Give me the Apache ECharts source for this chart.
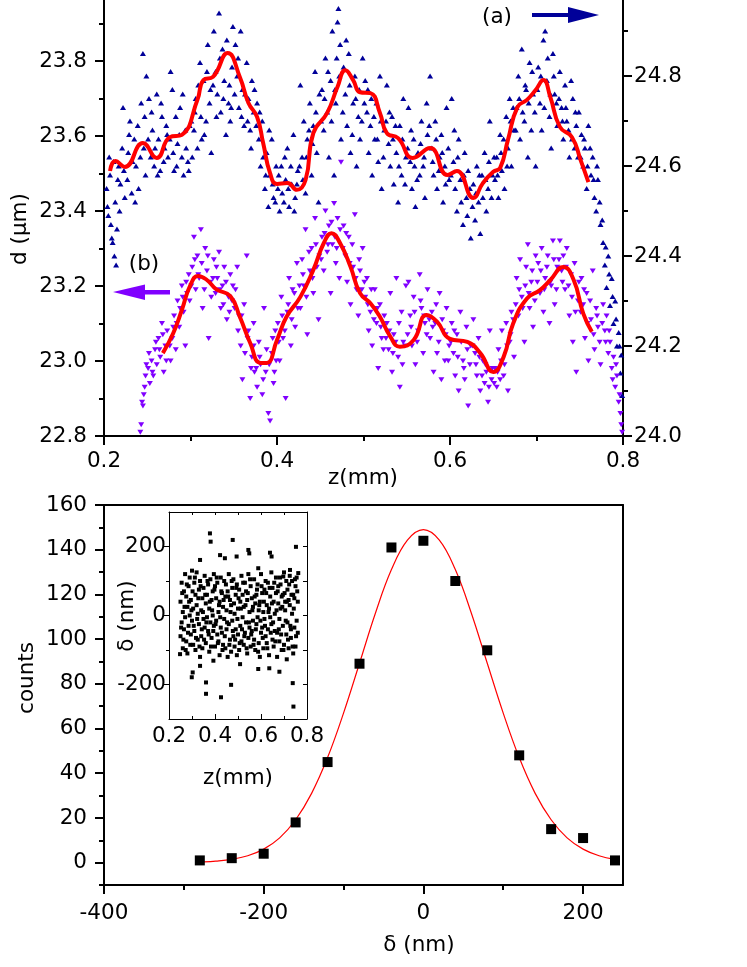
<!DOCTYPE html>
<html>
<head>
<meta charset="utf-8">
<title>d(z) profiles and deviation histogram</title>
<script src="https://cdn.jsdelivr.net/npm/echarts@6.0.0/dist/echarts.min.js"></script>
<style>
  html, body { margin: 0; padding: 0; background: #fff; }
  #chart { width: 747px; height: 967px; }
</style>
</head>
<body>
<div id="chart"></div>
<script>
// ---------- data ----------
// (a) diameter profile, right axis (µm)
const navyPts = [
  [0.203,24.55],[0.205,24.49],[0.207,24.58],[0.209,24.44],[0.210,24.43],[0.211,24.61],[0.212,24.40],[0.213,24.52],[0.214,24.38],[0.215,24.46],[0.217,24.60],[0.219,24.56],[0.222,24.73],[0.224,24.53],
  [0.228,24.63],[0.230,24.70],[0.232,24.54],[0.235,24.66],[0.237,24.60],[0.240,24.55],[0.243,24.74],[0.245,24.85],[0.246,24.64],[0.248,24.58],[0.249,24.80],
  [0.252,24.75],[0.254,24.62],[0.256,24.68],[0.258,24.60],[0.261,24.76],[0.263,24.66],[0.265,24.59],[0.267,24.71],[0.270,24.64],[0.272,24.69],[0.274,24.62],
  [0.277,24.81],[0.279,24.77],[0.281,24.59],[0.283,24.71],[0.285,24.65],[0.288,24.73],[0.290,24.62],[0.292,24.58],[0.294,24.68],[0.297,24.61],[0.299,24.69],
  [0.302,24.62],[0.304,24.68],[0.306,24.75],[0.308,24.64],[0.311,24.83],[0.313,24.66],[0.315,24.79],[0.318,24.70],[0.320,24.87],[0.322,24.74],[0.324,24.63],
  [0.327,24.90],[0.329,24.81],[0.331,24.76],[0.333,24.94],[0.335,24.72],[0.337,24.86],[0.339,24.79],[0.341,24.67],[0.344,24.74],[0.346,24.70],[0.348,24.82],[0.349,24.91],
  [0.352,24.87],[0.354,24.80],[0.356,24.73],[0.358,24.90],[0.360,24.77],[0.362,24.69],[0.365,24.83],[0.367,24.75],[0.369,24.68],[0.371,24.79],[0.373,24.72],
  [0.377,24.74],[0.379,24.66],[0.381,24.60],[0.383,24.70],[0.386,24.55],[0.388,24.63],[0.390,24.51],[0.392,24.58],[0.394,24.66],[0.396,24.53],[0.399,24.60],
  [0.401,24.55],[0.403,24.50],[0.405,24.60],[0.408,24.52],[0.410,24.57],[0.412,24.64],[0.414,24.51],[0.417,24.56],[0.419,24.67],[0.421,24.53],[0.424,24.59],
  [0.427,24.78],[0.429,24.62],[0.431,24.70],[0.433,24.54],[0.435,24.66],[0.438,24.74],[0.440,24.58],[0.442,24.69],[0.444,24.81],[0.446,24.63],[0.448,24.52],
  [0.452,24.77],[0.454,24.68],[0.456,24.84],[0.458,24.72],[0.460,24.62],[0.462,24.79],[0.464,24.90],[0.466,24.58],[0.468,24.74],[0.470,24.92],[0.471,24.95],[0.473,24.87],[0.474,24.66],
  [0.477,24.82],[0.479,24.76],[0.481,24.69],[0.483,24.85],[0.485,24.63],[0.488,24.74],[0.490,24.80],[0.492,24.60],[0.494,24.71],[0.496,24.66],[0.499,24.84],
  [0.502,24.79],[0.504,24.72],[0.506,24.63],[0.508,24.69],[0.510,24.58],[0.513,24.66],[0.515,24.74],[0.517,24.61],[0.519,24.80],[0.521,24.55],[0.524,24.68],
  [0.527,24.78],[0.529,24.65],[0.531,24.60],[0.533,24.71],[0.535,24.56],[0.538,24.63],[0.540,24.52],[0.542,24.69],[0.544,24.58],[0.546,24.75],[0.549,24.62],
  [0.552,24.73],[0.554,24.61],[0.556,24.55],[0.558,24.66],[0.560,24.51],[0.563,24.63],[0.565,24.58],[0.567,24.70],[0.569,24.60],[0.571,24.53],[0.574,24.67],
  [0.577,24.80],[0.579,24.64],[0.581,24.58],[0.583,24.70],[0.585,24.55],[0.588,24.62],[0.590,24.67],[0.592,24.52],[0.594,24.60],[0.596,24.73],[0.599,24.57],
  [0.602,24.75],[0.604,24.61],[0.606,24.55],[0.608,24.50],[0.610,24.66],[0.612,24.57],[0.615,24.47],[0.617,24.63],[0.619,24.53],[0.621,24.59],[0.624,24.44],
  [0.627,24.56],[0.629,24.48],[0.631,24.60],[0.633,24.52],[0.635,24.45],[0.637,24.58],[0.640,24.63],[0.642,24.50],[0.644,24.55],[0.646,24.70],[0.648,24.53],
  [0.652,24.57],[0.654,24.62],[0.656,24.53],[0.658,24.67],[0.660,24.59],[0.663,24.55],[0.665,24.71],[0.667,24.64],[0.669,24.75],[0.671,24.60],[0.674,24.68],
  [0.677,24.73],[0.679,24.80],[0.681,24.66],[0.683,24.86],[0.686,24.70],[0.688,24.77],[0.690,24.62],[0.692,24.83],[0.694,24.68],[0.696,24.76],[0.699,24.60],
  [0.702,24.82],[0.704,24.74],[0.706,24.68],[0.708,24.88],[0.710,24.90],[0.712,24.79],[0.715,24.71],[0.717,24.64],[0.719,24.85],[0.721,24.76],[0.724,24.69],
  [0.727,24.81],[0.729,24.73],[0.731,24.66],[0.733,24.78],[0.735,24.70],[0.738,24.62],[0.740,24.79],[0.742,24.75],[0.744,24.64],[0.746,24.69],[0.749,24.72],
  [0.752,24.67],[0.754,24.60],[0.756,24.64],[0.758,24.55],[0.760,24.69],[0.763,24.58],[0.765,24.62],[0.767,24.53],[0.769,24.50],[0.771,24.57],[0.774,24.47],
  [0.777,24.43],[0.779,24.38],[0.781,24.33],[0.783,24.40],[0.785,24.29],[0.787,24.35],[0.789,24.25],[0.791,24.30],[0.793,24.20],[0.795,24.23],[0.797,24.14],[0.798,24.18],[0.799,24.09],
  [0.204,24.51],[0.206,24.62],[0.208,24.47],[0.216,24.57],[0.218,24.50],[0.221,24.64],[0.223,24.59],
  [0.227,24.57],[0.229,24.67],[0.233,24.61],[0.236,24.52],[0.239,24.69],[0.242,24.62],[0.247,24.71],
  [0.251,24.66],[0.255,24.72],[0.259,24.64],[0.262,24.58],[0.266,24.74],[0.269,24.61],[0.273,24.67],
  [0.276,24.66],[0.280,24.63],[0.284,24.60],[0.287,24.67],[0.291,24.76],[0.295,24.64],[0.298,24.59],
  [0.301,24.70],[0.305,24.72],[0.309,24.78],[0.312,24.71],[0.316,24.67],[0.319,24.81],[0.323,24.77],
  [0.326,24.78],[0.330,24.71],[0.334,24.84],[0.338,24.75],[0.342,24.88],[0.345,24.78],[0.347,24.73],
  [0.351,24.76],[0.355,24.84],[0.359,24.71],[0.363,24.76],[0.366,24.70],[0.370,24.64],[0.374,24.77],
  [0.376,24.69],[0.380,24.72],[0.384,24.62],[0.387,24.58],[0.391,24.68],[0.395,24.56],[0.398,24.52],
  [0.402,24.58],[0.406,24.54],[0.409,24.62],[0.413,24.55],[0.416,24.60],[0.420,24.50],[0.423,24.56],
  [0.426,24.60],[0.430,24.57],[0.434,24.62],[0.437,24.68],[0.441,24.65],[0.445,24.72],[0.449,24.76],
  [0.451,24.70],[0.455,24.75],[0.459,24.81],[0.463,24.70],[0.467,24.77],[0.469,24.84],[0.472,24.80],
  [0.476,24.72],[0.480,24.88],[0.484,24.78],[0.487,24.67],[0.491,24.75],[0.495,24.77],[0.498,24.70],
  [0.501,24.74],[0.505,24.77],[0.509,24.75],[0.512,24.71],[0.516,24.66],[0.520,24.70],[0.523,24.62],
  [0.526,24.70],[0.530,24.72],[0.534,24.66],[0.537,24.69],[0.541,24.60],[0.545,24.66],[0.548,24.56],
  [0.551,24.64],[0.555,24.68],[0.559,24.60],[0.562,24.57],[0.566,24.65],[0.570,24.62],[0.573,24.74],
  [0.576,24.69],[0.580,24.61],[0.584,24.66],[0.587,24.59],[0.591,24.63],[0.595,24.56],[0.598,24.64],
  [0.601,24.58],[0.605,24.68],[0.609,24.62],[0.613,24.52],[0.616,24.58],[0.620,24.49],[0.623,24.55],
  [0.626,24.51],[0.630,24.54],[0.634,24.58],[0.638,24.53],[0.641,24.57],[0.645,24.61],[0.649,24.58],
  [0.651,24.62],[0.655,24.58],[0.659,24.63],[0.662,24.66],[0.666,24.60],[0.670,24.70],[0.673,24.73],
  [0.676,24.68],[0.680,24.75],[0.684,24.72],[0.687,24.78],[0.691,24.74],[0.695,24.81],[0.698,24.72],
  [0.701,24.77],[0.705,24.80],[0.709,24.73],[0.713,24.84],[0.716,24.76],[0.720,24.80],[0.723,24.74],
  [0.726,24.75],[0.730,24.70],[0.734,24.73],[0.737,24.68],[0.741,24.66],[0.745,24.72],[0.748,24.62],
  [0.751,24.62],[0.755,24.66],[0.759,24.60],[0.762,24.64],[0.766,24.57],[0.770,24.60],[0.773,24.52],
  [0.776,24.48],[0.780,24.42],[0.784,24.36],[0.788,24.31],[0.792,24.26],[0.796,24.20]
];
// (b) diameter profile, left axis (µm)
const purplePts = [
  [0.242,22.81],[0.243,22.83],[0.244,22.89],[0.245,22.88],[0.247,22.93],[0.248,22.96],
  [0.251,22.98],[0.253,22.94],[0.255,23.00],[0.257,22.96],[0.259,23.03],[0.261,22.99],[0.263,23.06],[0.265,23.01],[0.267,23.10],[0.269,22.97],[0.271,23.04],[0.273,23.08],
  [0.277,23.00],[0.279,23.06],[0.281,23.12],[0.283,23.03],[0.285,23.16],[0.287,23.09],[0.290,23.20],[0.292,23.13],[0.294,23.04],[0.296,23.18],[0.298,23.23],
  [0.302,23.25],[0.304,23.33],[0.306,23.19],[0.308,23.28],[0.310,23.22],[0.312,23.35],[0.314,23.14],[0.317,23.30],[0.319,23.24],[0.321,23.06],[0.323,23.21],
  [0.327,23.27],[0.329,23.18],[0.331,23.22],[0.333,23.29],[0.335,23.14],[0.337,23.20],[0.339,23.25],[0.342,23.11],[0.344,23.17],[0.346,23.23],[0.348,23.16],
  [0.352,23.19],[0.354,23.25],[0.356,23.12],[0.358,23.04],[0.360,22.95],[0.362,23.15],[0.365,23.28],[0.367,23.08],[0.369,22.90],[0.371,23.01],[0.373,23.10],[0.374,22.97],
  [0.377,22.93],[0.379,23.05],[0.381,22.99],[0.383,22.91],[0.385,23.14],[0.387,22.97],[0.390,22.86],[0.392,22.84],[0.394,23.02],[0.396,22.94],[0.398,23.08],[0.399,23.00],
  [0.401,23.10],[0.403,23.00],[0.405,23.17],[0.407,23.06],[0.410,22.90],[0.412,23.13],[0.414,23.22],[0.416,23.04],[0.418,23.19],[0.421,23.09],[0.423,23.26],
  [0.427,23.14],[0.429,23.27],[0.431,23.20],[0.433,23.35],[0.435,23.07],[0.438,23.24],[0.440,23.30],[0.442,23.18],[0.444,23.38],[0.446,23.25],[0.448,23.11],
  [0.452,23.33],[0.454,23.24],[0.456,23.40],[0.458,23.29],[0.460,23.36],[0.462,23.18],[0.464,23.31],[0.466,23.42],[0.468,23.26],[0.470,23.38],[0.472,23.22],[0.474,23.53],
  [0.477,23.36],[0.479,23.28],[0.481,23.21],[0.483,23.33],[0.485,23.15],[0.488,23.25],[0.490,23.39],[0.492,23.19],[0.494,23.12],[0.496,23.24],[0.499,23.30],
  [0.502,23.17],[0.504,23.22],[0.506,23.08],[0.508,23.13],[0.510,23.04],[0.513,23.19],[0.515,23.10],[0.517,22.98],[0.519,23.15],[0.521,23.06],[0.524,23.12],
  [0.527,23.10],[0.529,23.03],[0.531,23.18],[0.533,22.97],[0.535,23.07],[0.538,23.22],[0.540,23.01],[0.542,22.93],[0.544,23.13],[0.546,23.05],[0.549,23.20],
  [0.552,23.21],[0.554,23.12],[0.556,23.04],[0.558,23.17],[0.560,22.99],[0.563,23.08],[0.565,23.23],[0.567,23.14],[0.569,23.02],[0.571,23.10],[0.574,23.19],
  [0.577,23.06],[0.579,23.13],[0.581,22.97],[0.583,23.10],[0.585,23.02],[0.588,23.18],[0.590,22.95],[0.592,23.08],[0.594,23.00],[0.596,23.14],[0.599,23.04],
  [0.602,23.10],[0.604,23.02],[0.606,22.96],[0.608,23.07],[0.610,22.92],[0.612,23.13],[0.615,23.00],[0.617,22.95],[0.619,23.09],[0.621,22.88],[0.624,23.04],
  [0.627,23.11],[0.629,23.02],[0.631,22.96],[0.633,23.06],[0.635,22.92],[0.638,23.00],[0.640,22.94],[0.642,22.97],[0.644,22.89],[0.646,23.08],[0.648,22.95],
  [0.652,22.98],[0.654,22.93],[0.656,23.03],[0.658,22.95],[0.660,23.08],[0.663,22.99],[0.665,23.10],[0.667,22.92],[0.669,23.05],[0.671,23.13],[0.674,23.01],
  [0.677,23.22],[0.679,23.12],[0.681,23.27],[0.683,23.17],[0.686,23.05],[0.688,23.25],[0.690,23.31],[0.692,23.14],[0.694,23.21],[0.696,23.09],[0.699,23.28],
  [0.702,23.26],[0.704,23.18],[0.706,23.30],[0.708,23.13],[0.710,23.22],[0.713,23.28],[0.715,23.10],[0.717,23.20],[0.719,23.32],[0.721,23.15],[0.724,23.25],
  [0.727,23.32],[0.729,23.24],[0.731,23.28],[0.733,23.19],[0.735,23.30],[0.738,23.12],[0.740,23.23],[0.742,23.05],[0.744,23.26],[0.746,22.97],[0.749,23.21],
  [0.752,23.22],[0.754,23.15],[0.756,23.06],[0.758,23.18],[0.760,23.00],[0.763,23.11],[0.765,23.24],[0.767,23.03],[0.769,23.14],[0.771,23.09],[0.774,22.99],
  [0.777,23.15],[0.779,23.08],[0.781,23.12],[0.783,23.02],[0.785,23.05],[0.787,22.98],[0.789,23.01],[0.791,22.93],[0.793,22.96],[0.795,22.89],[0.797,22.86],[0.798,22.83],[0.799,22.81],
  [0.246,22.91],[0.249,22.99],
  [0.252,23.02],[0.256,22.97],[0.260,23.05],[0.264,23.03],[0.268,23.07],[0.272,23.00],
  [0.276,23.04],[0.280,23.09],[0.284,23.10],[0.288,23.14],[0.291,23.17],[0.295,23.21],[0.299,23.16],
  [0.301,23.20],[0.305,23.27],[0.309,23.23],[0.313,23.26],[0.316,23.19],[0.320,23.28],[0.324,23.17],
  [0.326,23.22],[0.330,23.25],[0.334,23.19],[0.338,23.15],[0.341,23.21],[0.345,23.13],[0.349,23.20],
  [0.351,23.14],[0.355,23.08],[0.359,23.12],[0.363,23.02],[0.366,23.06],[0.370,22.98],[0.373,23.04],
  [0.376,22.98],[0.380,23.01],[0.384,22.95],[0.388,23.03],[0.391,22.99],[0.395,23.06],[0.397,22.97],
  [0.402,23.05],[0.406,23.12],[0.409,23.08],[0.413,23.15],[0.417,23.11],[0.420,23.18],[0.424,23.14],
  [0.426,23.20],[0.430,23.23],[0.434,23.17],[0.437,23.29],[0.441,23.22],[0.445,23.31],[0.449,23.28],
  [0.451,23.27],[0.455,23.34],[0.459,23.31],[0.463,23.37],[0.467,23.33],[0.469,23.30],[0.473,23.35],
  [0.476,23.30],[0.480,23.34],[0.484,23.26],[0.487,23.31],[0.491,23.22],[0.495,23.27],[0.498,23.19],
  [0.501,23.21],[0.505,23.15],[0.509,23.19],[0.512,23.11],[0.516,23.14],[0.520,23.09],[0.523,23.03],
  [0.526,23.06],[0.530,23.08],[0.534,23.02],[0.537,23.05],[0.541,23.10],[0.545,22.99],[0.548,23.04],
  [0.551,23.07],[0.555,23.09],[0.559,23.13],[0.562,23.05],[0.566,23.16],[0.570,23.12],[0.573,23.07],
  [0.576,23.11],[0.580,23.09],[0.584,23.15],[0.587,23.05],[0.591,23.11],[0.595,23.07],[0.598,23.00],
  [0.601,23.05],[0.605,23.08],[0.609,23.01],[0.613,23.05],[0.616,22.98],[0.620,23.03],[0.623,22.99],
  [0.626,23.04],[0.630,22.99],[0.634,23.01],[0.637,22.96],[0.641,22.99],[0.645,22.93],[0.649,22.98],
  [0.651,22.94],[0.655,22.97],[0.659,23.00],[0.662,22.96],[0.666,23.04],[0.670,23.07],[0.673,23.11],
  [0.676,23.15],[0.680,23.19],[0.684,23.14],[0.687,23.20],[0.691,23.18],[0.695,23.24],[0.698,23.16],
  [0.701,23.21],[0.705,23.24],[0.709,23.19],[0.712,23.25],[0.716,23.21],[0.720,23.27],[0.723,23.19],
  [0.726,23.27],[0.730,23.21],[0.734,23.25],[0.737,23.20],[0.741,23.17],[0.745,23.13],[0.748,23.16],
  [0.751,23.13],[0.755,23.19],[0.759,23.10],[0.762,23.16],[0.766,23.07],[0.770,23.12],[0.773,23.05],
  [0.776,23.10],[0.780,23.05],[0.784,23.08],[0.788,22.95],[0.792,22.99],[0.796,22.91]
];
// red smoothed curves
const smoothA = [
  [0.207,24.589],[0.213,24.611],[0.224,24.598],[0.245,24.651],[0.261,24.618],[0.276,24.664],[0.290,24.669],[0.308,24.747],
  [0.315,24.791],[0.326,24.798],[0.343,24.851],[0.357,24.798],[0.367,24.740],[0.377,24.709],[0.384,24.651],[0.392,24.584],
  [0.400,24.560],[0.412,24.562],[0.423,24.547],[0.433,24.569],[0.442,24.673],[0.458,24.718],[0.470,24.776],[0.479,24.813],
  [0.488,24.791],[0.496,24.764],[0.508,24.762],[0.519,24.718],[0.527,24.673],[0.540,24.662],[0.557,24.618],[0.577,24.640],
  [0.597,24.580],[0.608,24.589],[0.627,24.529],[0.638,24.562],[0.650,24.587],[0.658,24.596],[0.667,24.658],[0.678,24.731],
  [0.689,24.747],[0.699,24.769],[0.708,24.791],[0.716,24.753],[0.727,24.687],[0.741,24.664],[0.751,24.613],[0.760,24.564]
];
const smoothB = [
  [0.268,23.021],[0.280,23.074],[0.290,23.136],[0.300,23.203],[0.309,23.227],[0.319,23.216],[0.330,23.191],[0.346,23.173],
  [0.357,23.118],[0.369,23.048],[0.381,22.995],[0.388,22.995],[0.400,23.056],[0.411,23.118],[0.427,23.171],[0.442,23.243],
  [0.454,23.314],[0.463,23.341],[0.473,23.314],[0.485,23.251],[0.496,23.181],[0.508,23.154],[0.519,23.118],[0.531,23.065],
  [0.542,23.038],[0.558,23.056],[0.573,23.123],[0.585,23.105],[0.600,23.059],[0.620,23.051],[0.635,23.021],[0.650,22.971],
  [0.662,23.011],[0.673,23.100],[0.689,23.167],[0.704,23.189],[0.716,23.216],[0.731,23.251],[0.743,23.216],[0.754,23.127],
  [0.764,23.078]
];
// histogram of deviations
const deltaBins = [-280, -240, -200, -160, -120, -80, -40, 0, 40, 80, 120, 160, 200, 240];
const deltaCounts = [1, 2, 4, 18, 45, 89, 141, 144, 126, 95, 48, 15, 11, 1];
// fitted curve as drawn
const fitX = [-275, -260, -240, -220, -200, -180, -160, -140, -120, -100, -80, -60, -40, -20, 0, 20, 40, 60, 80, 100, 120, 140, 160, 180, 200, 220, 240];
const fitY = [0.35, 0.66, 1.47, 3.09, 6.05, 11.1, 19.2, 31.0, 47.0, 66.9, 89.2, 111.7, 131.1, 144.3, 149, 144.3, 131.1, 111.7, 89.2, 66.9, 47.0, 31.0, 19.2, 11.1, 6.05, 3.09, 1.47];
// inset: deviation vs z
const insetPts = [
  [0.378,238],[0.381,214],[0.477,219],[0.545,190],[0.549,180],[0.639,182],[0.752,199],
  [0.303,-165],[0.299,-179],[0.361,-227],[0.426,-237],[0.470,-201],[0.741,-264],[0.738,-196],[0.361,-194],[0.680,-163],[0.636,-153],
  [0.335,161],[0.422,175],[0.443,166],[0.494,171],[0.588,137],[0.646,171],[0.697,113],[0.726,132],[0.762,123],
  [0.248,-112],[0.335,-146],[0.393,-131],[0.509,-141],[0.588,-155],[0.712,-127],
  [0.250,40],[0.250,-60],[0.255,-20],[0.255,95],[0.260,10],[0.260,-95],[0.265,70],[0.265,-40],[0.270,-5],[0.270,120],
  [0.275,55],[0.275,-75],[0.280,-110],[0.280,25],[0.285,85],[0.285,-30],[0.290,0],[0.290,110],[0.295,-55],[0.295,45],
  [0.300,130],[0.300,-15],[0.305,20],[0.305,-85],[0.310,95],[0.310,-45],[0.315,-100],[0.315,60],[0.320,30],[0.320,125],
  [0.325,-70],[0.325,5],[0.330,75],[0.330,-25],[0.335,-120],[0.335,100],[0.340,15],[0.340,-60],[0.345,50],[0.345,-95],
  [0.350,-10],[0.350,80],[0.355,115],[0.355,-35],[0.360,-80],[0.360,35],[0.365,60],[0.365,-5],[0.370,-45],[0.370,90],
  [0.375,20],[0.375,-105],[0.380,105],[0.380,-20],[0.385,-65],[0.385,45],[0.390,0],[0.390,70],[0.395,-30],[0.395,120],
  [0.400,85],[0.400,-90],[0.405,-15],[0.405,50],[0.410,95],[0.410,-55],[0.415,-75],[0.415,10],[0.420,40],[0.420,-115],
  [0.425,110],[0.425,-35],[0.430,-50],[0.430,65],[0.435,25],[0.435,-85],[0.440,100],[0.440,-10],[0.445,-95],[0.445,55],
  [0.450,15],[0.450,-40],[0.455,70],[0.455,-120],[0.460,-25],[0.460,120],[0.465,45],[0.465,-70],[0.470,-105],[0.470,30],
  [0.475,80],[0.475,-15],[0.480,-60],[0.480,105],[0.485,5],[0.485,-90],[0.490,60],[0.490,-40],[0.495,-115],[0.495,90],
  [0.500,20],[0.500,-55],[0.505,75],[0.505,-100],[0.510,-30],[0.510,40],[0.515,115],[0.515,-75],[0.520,-5],[0.520,60],
  [0.525,-85],[0.525,25],[0.530,95],[0.530,-50],[0.535,-20],[0.535,70],[0.540,45],[0.540,-110],[0.545,-65],[0.545,120],
  [0.550,10],[0.550,-35],[0.555,85],[0.555,-90],[0.560,-45],[0.560,50],[0.565,25],[0.565,-15],[0.570,105],[0.570,-70],
  [0.575,-100],[0.575,35],[0.580,60],[0.580,-25],[0.585,-5],[0.585,90],[0.590,-80],[0.590,15],[0.595,40],[0.595,-120],
  [0.600,120],[0.600,-50],[0.605,-35],[0.605,65],[0.610,10],[0.610,-95],[0.615,75],[0.615,-10],[0.620,-60],[0.620,100],
  [0.625,30],[0.625,-80],[0.630,95],[0.630,-40],[0.635,-115],[0.635,20],[0.640,55],[0.640,-5],[0.645,-25],[0.645,125],
  [0.650,80],[0.650,-70],[0.655,-90],[0.655,40],[0.660,5],[0.660,-45],[0.665,110],[0.665,65],[0.670,-50],[0.670,-120],
  [0.675,35],[0.675,85],[0.680,-10],[0.680,-75],[0.685,90],[0.685,20],[0.690,-100],[0.690,55],[0.695,60],[0.695,-30],
  [0.700,125],[0.700,-85],[0.705,15],[0.705,40],[0.710,-55],[0.710,100],[0.715,75],[0.715,-20],[0.720,-95],[0.720,45],
  [0.725,30],[0.725,115],[0.730,-40],[0.730,-65],[0.735,100],[0.735,5],[0.740,-110],[0.740,60],[0.745,50],[0.745,-35],
  [0.750,85],[0.750,-90],[0.755,-15],[0.755,110],[0.760,40],[0.760,-50],
  [0.2525,-35],[0.2575,65],[0.2625,-70],[0.2675,25],[0.2725,-100],[0.2775,90],[0.2825,-50],[0.2875,40],[0.2925,-85],[0.2975,15],
  [0.3025,70],[0.3075,-30],[0.3125,110],[0.3175,-65],[0.3225,-10],[0.3275,50],[0.3325,-90],[0.3375,85],[0.3425,-40],[0.3475,10],
  [0.3525,-70],[0.3575,60],[0.3625,-20],[0.3675,100],[0.3725,-55],[0.3775,40],[0.3825,-90],[0.3875,15],[0.3925,-45],[0.3975,75],
  [0.4025,-25],[0.4075,110],[0.4125,-80],[0.4175,30],[0.4225,-5],[0.4275,70],[0.4325,-100],[0.4375,45],[0.4425,-60],[0.4475,90],
  [0.4525,-20],[0.4575,55],[0.4625,-85],[0.4675,10],[0.4725,100],[0.4775,-45],[0.4825,35],[0.4875,-70],[0.4925,80],[0.4975,-10],
  [0.5025,50],[0.5075,-80],[0.5125,20],[0.5175,-40],[0.5225,95],[0.5275,-60],[0.5325,30],[0.5375,-95],[0.5425,65],[0.5475,-20],
  [0.5525,105],[0.5575,-55],[0.5625,15],[0.5675,-85],[0.5725,55],[0.5775,-40],[0.5825,75],[0.5875,-105],[0.5925,30],[0.5975,-15],
  [0.6025,85],[0.6075,-65],[0.6125,40],[0.6175,-30],[0.6225,65],[0.6275,-95],[0.6325,10],[0.6375,80],[0.6425,-50],[0.6475,35],
  [0.6525,-20],[0.6575,95],[0.6625,-75],[0.6675,15],[0.6725,70],[0.6775,-40],[0.6825,110],[0.6875,-55],[0.6925,25],[0.6975,-100],
  [0.7025,65],[0.7075,-15],[0.7125,40],[0.7175,-70],[0.7225,90],[0.7275,-30],[0.7325,60],[0.7375,-90],[0.7425,20],[0.7475,105],
  [0.7525,-60],[0.7575,70]
];
// tick positions
const zMajor = [0.2, 0.4, 0.6, 0.8];
const zMinor = [0.3, 0.5, 0.7];
const dLeftMajor = [22.8, 23.0, 23.2, 23.4, 23.6, 23.8];
const dLeftMinor = [22.9, 23.1, 23.3, 23.5, 23.7, 23.9];
const dRightMajor = [24.0, 24.2, 24.4, 24.6, 24.8];
const dRightMinor = [24.1, 24.3, 24.5, 24.7, 24.9];
const deltaMajor = [-400, -200, 0, 200];
const deltaMinor = [-300, -100, 100];
const countMajor = [0, 20, 40, 60, 80, 100, 120, 140, 160];
const countMinor = [-10, 10, 30, 50, 70, 90, 110, 130, 150];
const insetYMajor = [-200, 0, 200];
const insetYMinor = [-100, 100];

// ---------- chart ----------
const FONT = 'DejaVu Sans, sans-serif';
const FS = 21.5;
const NAVY = '#000099';
const VIOLET = '#8000ff';
const RED = '#ff0000';

function axis(o) {
  return Object.assign({
    type: 'value',
    splitLine: { show: false },
    axisLine: { show: false, onZero: false },
    axisTick: { show: false },
    axisLabel: { show: false }
  }, o);
}
function line(w) {
  return { show: true, onZero: false, lineStyle: { color: '#000', width: w } };
}
function ticks(vals, len, w, inside) {
  return { show: true, inside: !!inside, length: len, customValues: vals, lineStyle: { color: '#000', width: w } };
}
function labels(vals, margin, digits) {
  return {
    show: true, customValues: vals, margin: margin, color: '#000', fontSize: FS, fontFamily: FONT,
    formatter: v => digits ? Number(v).toFixed(digits) : String(v)
  };
}
function txt(text, x, y, rot) {
  return {
    type: 'text', x: x, y: y, rotation: rot || 0, z: 50,
    style: { text: text, fill: '#000', fontSize: FS, fontFamily: FONT, align: 'center', verticalAlign: 'middle' }
  };
}

const chart = echarts.init(document.getElementById('chart'), null, { renderer: 'canvas' });
chart.setOption({
  animation: false,
  backgroundColor: '#fff',
  grid: [
    { left: 104, top: 0, width: 519, height: 436 },
    { left: 104, top: 505, width: 519, height: 380 },
    { left: 169, top: 512, width: 138, height: 207 }
  ],
  xAxis: [
    axis({ gridIndex: 0, position: 'bottom', min: 0.2, max: 0.8, axisLine: line(2), axisTick: ticks(zMajor, 9, 2), axisLabel: labels(zMajor, 14, 1) }),
    axis({ gridIndex: 0, position: 'bottom', min: 0.2, max: 0.8, axisTick: ticks(zMinor, 5, 2) }),
    axis({ gridIndex: 1, position: 'bottom', min: -400, max: 250, axisLine: line(2), axisTick: ticks(deltaMajor, 9, 2), axisLabel: labels(deltaMajor, 17, 0) }),
    axis({ gridIndex: 1, position: 'bottom', min: -400, max: 250, axisTick: ticks(deltaMinor, 5, 2) }),
    axis({ gridIndex: 1, position: 'top', min: -400, max: 250, axisLine: line(2) }),
    axis({ gridIndex: 2, position: 'bottom', min: 0.2, max: 0.8, axisLine: line(1), axisTick: ticks(zMajor, 5, 1, true), axisLabel: labels(zMajor, 6, 1) }),
    axis({ gridIndex: 2, position: 'bottom', min: 0.2, max: 0.8, axisTick: ticks(zMinor, 3, 1, true) }),
    axis({ gridIndex: 2, position: 'top', min: 0.2, max: 0.8, axisLine: line(1), axisTick: ticks(zMajor.concat(zMinor), 3, 1, true) })
  ],
  yAxis: [
    axis({ gridIndex: 0, position: 'left', min: 22.8, max: 23.9627, axisLine: line(2), axisTick: ticks(dLeftMajor, 9, 2), axisLabel: labels(dLeftMajor, 17, 1) }),
    axis({ gridIndex: 0, position: 'left', min: 22.8, max: 23.9627, axisTick: ticks(dLeftMinor, 5, 2) }),
    axis({ gridIndex: 0, position: 'right', min: 24.0, max: 24.9689, axisLine: line(2), axisTick: ticks(dRightMajor, 9, 2), axisLabel: labels(dRightMajor, 11, 1) }),
    axis({ gridIndex: 0, position: 'right', min: 24.0, max: 24.9689, axisTick: ticks(dRightMinor, 5, 2) }),
    axis({ gridIndex: 1, position: 'left', min: -10, max: 160, axisLine: line(2), axisTick: ticks(countMajor, 9, 2), axisLabel: labels(countMajor, 17, 0) }),
    axis({ gridIndex: 1, position: 'left', min: -10, max: 160, axisTick: ticks(countMinor, 5, 2) }),
    axis({ gridIndex: 1, position: 'right', min: -10, max: 160, axisLine: line(2) }),
    axis({ gridIndex: 2, position: 'left', min: -300, max: 300, axisLine: line(1), axisTick: ticks(insetYMajor, 5, 1), axisLabel: labels(insetYMajor, 3, 0) }),
    axis({ gridIndex: 2, position: 'left', min: -300, max: 300, axisTick: ticks(insetYMinor, 3, 1) }),
    axis({ gridIndex: 2, position: 'right', min: -300, max: 300, axisLine: line(1), axisTick: ticks(insetYMajor.concat(insetYMinor), 4, 1, true) })
  ],
  series: [
    {
      name: '(a)', type: 'scatter', xAxisIndex: 0, yAxisIndex: 2, data: navyPts,
      symbol: 'triangle', symbolSize: [6, 5], itemStyle: { color: NAVY, opacity: 1 }
    },
    {
      name: '(b)', type: 'scatter', xAxisIndex: 0, yAxisIndex: 0, data: purplePts,
      symbol: 'triangle', symbolRotate: 180, symbolSize: [6, 5], itemStyle: { color: VIOLET, opacity: 1 }
    },
    {
      name: 'smooth (a)', type: 'line', xAxisIndex: 0, yAxisIndex: 2, data: smoothA, smooth: 0.5,
      showSymbol: false, lineStyle: { color: RED, width: 4 }
    },
    {
      name: 'smooth (b)', type: 'line', xAxisIndex: 0, yAxisIndex: 0, data: smoothB, smooth: 0.5,
      showSymbol: false, lineStyle: { color: RED, width: 4 }
    },
    {
      name: 'fit', type: 'line', xAxisIndex: 2, yAxisIndex: 4, smooth: 0.4, showSymbol: false,
      data: fitX.map((x, i) => [x, fitY[i]]), lineStyle: { color: RED, width: 1.2 }
    },
    {
      name: 'counts', type: 'scatter', xAxisIndex: 2, yAxisIndex: 4, symbol: 'rect', symbolSize: 10,
      data: deltaBins.map((x, i) => [x, deltaCounts[i]]), itemStyle: { color: '#000', opacity: 1 }, z: 3
    },
    {
      name: 'inset', type: 'scatter', xAxisIndex: 5, yAxisIndex: 7, symbol: 'rect', symbolSize: 4,
      data: insetPts, itemStyle: { color: '#000', opacity: 1 }
    }
  ],
  graphic: [
    txt('d (μm)', 20, 229, Math.PI / 2),
    txt('z(mm)', 363, 478),
    txt('counts', 27, 678, Math.PI / 2),
    txt('δ (nm)', 419, 945),
    txt('δ (nm)', 127, 616, Math.PI / 2),
    txt('z(mm)', 238, 778),
    txt('(a)', 497, 17),
    txt('(b)', 144, 264),
    { type: 'rect', z: 50, shape: { x: 532, y: 13, width: 37, height: 4 }, style: { fill: NAVY } },
    { type: 'polygon', z: 50, shape: { points: [[568, 7], [599, 15], [568, 23]] }, style: { fill: NAVY } },
    { type: 'rect', z: 50, shape: { x: 144, y: 290, width: 26, height: 4.5 }, style: { fill: VIOLET } },
    { type: 'polygon', z: 50, shape: { points: [[113, 292], [145, 284.5], [145, 300]] }, style: { fill: VIOLET } }
  ]
});
</script>
</body>
</html>
